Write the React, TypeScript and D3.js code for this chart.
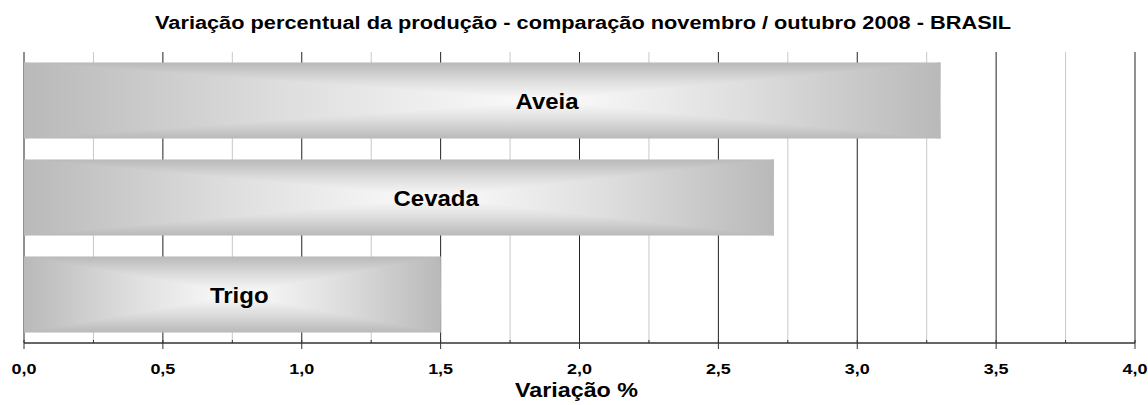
import React from "react";
import * as d3 from "d3";

const title = "Variação percentual da produção - comparação novembro / outubro 2008 - BRASIL";
const axisTitle = "Variação %";
const categories = ["Aveia", "Cevada", "Trigo"];
const values = [3.3, 2.7, 1.5];
// where the label (and the light centre of the fill) sits, in axis units
const labelAnchors = [1.883, 1.484, 0.775];
const majorTicks = [0, 0.5, 1, 1.5, 2, 2.5, 3, 3.5, 4];
const minorTicks = [0.25, 0.75, 1.25, 1.75, 2.25, 2.75, 3.25, 3.75];

const W = 1148;
const H = 405;
const TOP = 52;
const BOTTOM = 343;
const EDGE = "#b9b9b9";
const MID = "#dedede";
const CENTER = "#fcfcfc";
const FONT = "'Liberation Sans', Arial, sans-serif";

export default function App() {
  const x = d3.scaleLinear().domain([0, 4]).range([24, 1135]);
  const y = d3
    .scaleBand<string>()
    .domain(categories)
    .range([TOP, BOTTOM])
    .paddingInner(0.216)
    .paddingOuter(0.108);
  const fmt = (v: number) => d3.format(".1f")(v).replace(".", ",");

  return (
    <svg
      width={W}
      height={H}
      style={{ position: "absolute", left: 0, top: 0, background: "#fff" }}
      fontFamily={FONT}
    >
      <defs>
        <linearGradient id="vgrad" x1="0" y1="0" x2="0" y2="1">
          <stop offset="0" stopColor={EDGE} />
          <stop offset="0.25" stopColor={MID} />
          <stop offset="0.5" stopColor={CENTER} />
          <stop offset="0.75" stopColor={MID} />
          <stop offset="1" stopColor={EDGE} />
        </linearGradient>
        {categories.map((c, i) => {
          const x0 = x(0);
          const x1 = x(values[i]);
          const cx = x(labelAnchors[i]);
          return (
            <React.Fragment key={c}>
              <linearGradient id={`lg${i}`} gradientUnits="userSpaceOnUse" x1={x0} y1={0} x2={cx} y2={0}>
                <stop offset="0" stopColor={EDGE} />
                <stop offset="0.5" stopColor={MID} />
                <stop offset="1" stopColor={CENTER} />
              </linearGradient>
              <linearGradient id={`rg${i}`} gradientUnits="userSpaceOnUse" x1={x1} y1={0} x2={cx} y2={0}>
                <stop offset="0" stopColor={EDGE} />
                <stop offset="0.5" stopColor={MID} />
                <stop offset="1" stopColor={CENTER} />
              </linearGradient>
            </React.Fragment>
          );
        })}
      </defs>

      <text
        x={583}
        y={29}
        textAnchor="middle"
        fontSize={17.5}
        fontWeight="bold"
        textLength={856}
        lengthAdjust="spacingAndGlyphs"
      >
        {title}
      </text>

      {/* grid */}
      {minorTicks.map((t) => (
        <line key={`mg${t}`} x1={x(t)} x2={x(t)} y1={TOP} y2={BOTTOM} stroke="#c8c8c8" strokeWidth={1} />
      ))}
      {majorTicks.map((t) => (
        <line key={`Mg${t}`} x1={x(t)} x2={x(t)} y1={TOP} y2={BOTTOM} stroke="#222" strokeWidth={1} />
      ))}

      {/* bars */}
      {categories.map((c, i) => {
        const x0 = x(0);
        const x1 = x(values[i]);
        const cx = x(labelAnchors[i]);
        const y0 = y(c)!;
        const h = y.bandwidth();
        const y1 = y0 + h;
        const cy = y0 + h / 2;
        return (
          <g key={c}>
            <rect x={x0} y={y0} width={x1 - x0} height={h} fill="url(#vgrad)" />
            <polygon points={`${x0},${y0} ${x0},${y1} ${cx},${cy}`} fill={`url(#lg${i})`} />
            <polygon points={`${x1},${y0} ${x1},${y1} ${cx},${cy}`} fill={`url(#rg${i})`} />
            <text
              x={cx}
              y={cy + 8.5}
              textAnchor="middle"
              fontSize={22}
              fontWeight="bold"
              transform={`translate(${cx},0) scale(1.09,1) translate(${-cx},0)`}
            >
              {c}
            </text>
          </g>
        );
      })}

      {/* axis */}
      <line x1={x(0)} x2={x(4)} y1={BOTTOM} y2={BOTTOM} stroke="#333" strokeWidth={1.3} />
      {majorTicks.map((t) => (
        <line key={`Mt${t}`} x1={x(t)} x2={x(t)} y1={BOTTOM - 3} y2={BOTTOM + 6} stroke="#333" strokeWidth={1} />
      ))}
      {minorTicks.map((t) => (
        <line key={`mt${t}`} x1={x(t)} x2={x(t)} y1={BOTTOM - 3} y2={BOTTOM} stroke="#333" strokeWidth={1} />
      ))}
      {majorTicks.map((t) => (
        <text
          key={`tl${t}`}
          x={x(t)}
          y={374}
          textAnchor="middle"
          fontSize={15}
          fontWeight="bold"
          textLength={25}
          lengthAdjust="spacingAndGlyphs"
        >
          {fmt(t)}
        </text>
      ))}
      <text
        x={576.5}
        y={397}
        textAnchor="middle"
        fontSize={19.5}
        fontWeight="bold"
        textLength={123}
        lengthAdjust="spacingAndGlyphs"
      >
        {axisTitle}
      </text>
    </svg>
  );
}
